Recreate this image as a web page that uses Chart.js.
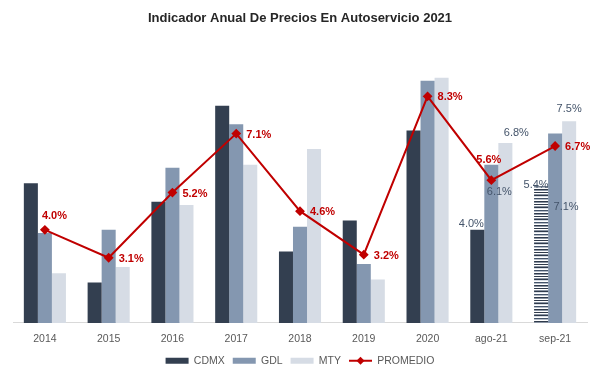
<!DOCTYPE html>
<html>
<head>
<meta charset="utf-8">
<script src="https://cdn.jsdelivr.net/npm/chart.js@4.4.1/dist/chart.umd.min.js"></script>
<style>
  body { margin: 0; background: #fff; }
</style>
</head>
<body>
<canvas id="chart" width="600" height="380"></canvas>
<script>
// datos
var categories = ['2014', '2015', '2016', '2017', '2018', '2019', '2020', 'ago-21', 'sep-21'];
var cdmx = [5.5, 2.3, 4.9, 8.0, 3.3, 4.3, 7.2, 4.0, 5.4];
var gdl = [3.9, 4.0, 6.0, 7.4, 4.1, 2.9, 8.8, 6.1, 7.1];
var mty = [2.6, 2.8, 4.8, 6.1, 6.6, 2.4, 8.9, 6.8, 7.5];
var promedio = [4.0, 3.1, 5.2, 7.1, 4.6, 3.2, 8.3, 5.6, 6.7];

var FONT = "'Liberation Sans', Arial, sans-serif";

// barra rayada (sep-21 CDMX)
function stripes() {
    var c = document.createElement('canvas');
    c.width = 4; c.height = 12;
    var g = c.getContext('2d');
    var rows = ['#2f3a4b', '#ffffff', '#8a94a3', '#2f3a4b', '#d6dce5', '#ffffff',
                '#44546a', '#b4bcc8', '#ffffff', '#2f3a4b', '#8a94a3', '#ffffff'];
    rows.forEach(function (col, i) { g.fillStyle = col; g.fillRect(0, i, 4, 1); });
    return g.createPattern(c, 'repeat');
}
var cdmxColors = categories.map(function (c, i) { return i === 8 ? stripes() : '#333f50'; });

var labelsPlugin = {
    id: 'labels',
    afterDatasetsDraw: function (chart) {
        var ctx = chart.ctx;
        ctx.save();
        // etiquetas del promedio
        ctx.font = 'bold 11px ' + FONT;
        ctx.fillStyle = '#c00000';
        ctx.textAlign = 'left';
        ctx.textBaseline = 'middle';
        chart.getDatasetMeta(3).data.forEach(function (pt, i) {
            var dx = 10, dy = 1;
            if (i === 0) { dx = -3; dy = -14; }
            if (i === 7) { dx = -15; dy = -20; }
            ctx.fillText(promedio[i].toFixed(1) + '%', pt.x + dx, pt.y + dy);
        });
        // etiquetas de barras (solo ago-21 y sep-21)
        ctx.font = '11px ' + FONT;
        ctx.fillStyle = '#44546a';
        ctx.textAlign = 'center';
        var series = [cdmx, gdl, mty];
        var offs = {
            7: [[-6, -6], [8, 27], [11, -10]],
            8: [[-5, -1], [11, 73], [0, -12]]
        };
        [7, 8].forEach(function (i) {
            for (var d = 0; d < 3; d++) {
                var bar = chart.getDatasetMeta(d).data[i];
                var o = offs[i][d];
                ctx.fillText(series[d][i].toFixed(1) + '%', bar.x + o[0], bar.y + o[1]);
            }
        });
        ctx.restore();
    },
    afterDraw: function (chart) {
        // marcador de linea en la leyenda
        var boxes = chart.legend.legendHitBoxes;
        var items = chart.legend.legendItems;
        var ctx = chart.ctx;
        items.forEach(function (it, k) {
            if (it.datasetIndex !== 3) return;
            var b = boxes[k];
            var y = b.top + b.height / 2;
            ctx.save();
            ctx.fillStyle = '#fff';
            ctx.fillRect(b.left - 1, y - 5, 25, 10);
            ctx.strokeStyle = '#c00000';
            ctx.lineWidth = 2;
            ctx.beginPath();
            ctx.moveTo(b.left, y);
            ctx.lineTo(b.left + 23, y);
            ctx.stroke();
            ctx.fillStyle = '#c00000';
            ctx.beginPath();
            ctx.moveTo(b.left + 11.5, y - 4);
            ctx.lineTo(b.left + 15.5, y);
            ctx.lineTo(b.left + 11.5, y + 4);
            ctx.lineTo(b.left + 7.5, y);
            ctx.closePath();
            ctx.fill();
            ctx.restore();
        });
    }
};

var ctx = document.getElementById('chart').getContext('2d');
var chart = new Chart(ctx, {
    type: 'bar',
    data: {
        labels: categories,
        datasets: [
            { label: 'CDMX', data: cdmx, backgroundColor: cdmxColors, order: 1 },
            { label: 'GDL', data: gdl, backgroundColor: '#8497b0', order: 1 },
            { label: 'MTY', data: mty, backgroundColor: '#d6dce5', order: 1 },
            {
                type: 'line', label: 'PROMEDIO', data: promedio, order: 0,
                borderColor: '#c00000', backgroundColor: '#c00000', borderWidth: 2,
                pointStyle: 'rectRot', pointRadius: 3.5, pointBackgroundColor: '#c00000',
                tension: 0
            }
        ]
    },
    options: {
        responsive: false,
        animation: false,
        categoryPercentage: 0.66,
        barPercentage: 1.0,
        layout: { padding: { left: 13, right: 13, bottom: 4 } },
        scales: {
            x: {
                grid: { display: false },
                border: { display: true, color: '#d9d9d9', width: 1 },
                ticks: { color: '#595959', font: { family: FONT, size: 10.5 }, padding: 2 }
            },
            y: { display: false, min: 1, max: 10 }
        },
        plugins: {
            title: {
                display: true,
                text: 'Indicador Anual De Precios En Autoservicio 2021',
                color: '#262626',
                font: { family: FONT, size: 13, weight: 'bold' },
                padding: { top: 11, bottom: 17 }
            },
            legend: {
                position: 'bottom',
                labels: {
                    boxWidth: 23, boxHeight: 6, padding: 8,
                    color: '#595959', font: { family: FONT, size: 10.5 },
                    sort: function (a, b) { return a.datasetIndex - b.datasetIndex; }
                }
            },
            tooltip: { enabled: false }
        }
    },
    plugins: [labelsPlugin]
});
</script>
</body>
</html>
